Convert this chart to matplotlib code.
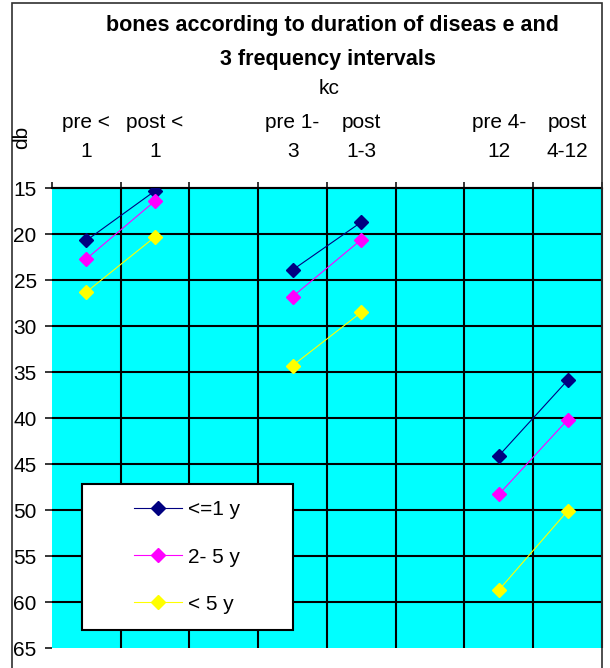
import numpy as np
import matplotlib
matplotlib.use('Agg')
import matplotlib.pyplot as plt
from matplotlib.patches import Rectangle

# data ==========================================================================
categories = ['pre <\n1', 'post <\n1', '', 'pre 1-\n3', 'post\n1-3', '',
              'pre 4-\n12', 'post\n4-12']
upto_1y = [20.7, 15.3, np.nan, 23.9, 18.7, np.nan, 44.1, 35.9]
y2_5 = [22.7, 16.4, np.nan, 26.8, 20.6, np.nan, 48.3, 40.2]
over_5y = [26.3, 20.3, np.nan, 34.3, 28.5, np.nan, 58.7, 50.1]
series_names = ['<=1 y', '2- 5 y', '< 5 y']
y_ticks = [15, 20, 25, 30, 35, 40, 45, 50, 55, 60, 65]

colors = ['#000080', '#ff00ff', '#ffff00']

plt.rcParams['font.family'] = ['Liberation Sans', 'DejaVu Sans']

fig = plt.figure(figsize=(6.1, 6.68), dpi=100)
ax = fig.add_axes([0.0852, 0.0299, 0.9016, 0.6886])
ax.set_facecolor('#00ffff')

n = len(categories)
x = np.arange(n) + 0.5

# grid (no line on the left edge or at 65)
ax.hlines(y_ticks[:-1], 0, n, colors='black', lw=1.5, zorder=1, clip_on=False)
ax.vlines(np.arange(1, n + 1), y_ticks[-1], y_ticks[0], colors='black', lw=1.5,
          zorder=1, clip_on=False)

for vals, name, c in zip([upto_1y, y2_5, over_5y], series_names, colors):
    ax.plot(x, vals, color=c, lw=0.8, marker='D', ms=7, mfc=c, mec=c,
            label=name, zorder=3)

ax.set_xlim(0, n)
ax.set_ylim(y_ticks[-1], y_ticks[0])

for s in ['left', 'bottom', 'right']:
    ax.spines[s].set_visible(False)
ax.spines['top'].set_linewidth(1.5)

# category axis on top
ax.xaxis.tick_top()
ax.set_xticks(x)
ax.set_xticklabels(categories, fontsize=15, linespacing=1.65)
ax.set_xticks(np.arange(n + 1), minor=True)
ax.tick_params(axis='x', which='major', length=0, pad=19.5)
ax.tick_params(axis='x', which='minor', length=4.3, width=1.1, direction='out')

ax.set_yticks(y_ticks)
ax.tick_params(axis='y', length=5, width=1.1, pad=6, labelsize=15)

# legend box
box = Rectangle((0.0545, 0.039), 0.3835, 0.3175, transform=ax.transAxes,
                facecolor='white', edgecolor='black', lw=1.5, zorder=4)
ax.add_patch(box)
leg = ax.legend(loc='center', bbox_to_anchor=(0.0545 + 0.3835 / 2, 0.039 + 0.3175 / 2),
                frameon=False, fontsize=15, handlelength=2.3, handletextpad=0.3,
                labelspacing=1.35)
leg.set_zorder(5)

# texts
fig.text(0.545, 1 - 26 / 668, 'bones according to duration of diseas e and',
         ha='center', va='center', fontsize=15.5, fontweight='bold')
fig.text(0.538, 1 - 60 / 668, '3 frequency intervals',
         ha='center', va='center', fontsize=15.5, fontweight='bold')
fig.text(0.539, 1 - 88 / 668, 'kc', ha='center', va='center', fontsize=15)
fig.text(22 / 610, 1 - 137 / 668, 'db', ha='center', va='center', fontsize=15,
         rotation=90)

# outer chart frame
frame = Rectangle((12 / 610, -0.1), 590 / 610, 1.1 - 3 / 668, transform=fig.transFigure,
                  fill=False, edgecolor='#303030', lw=1.2, clip_on=False)
fig.patches.append(frame)

fig.savefig('out.png', dpi=100)
